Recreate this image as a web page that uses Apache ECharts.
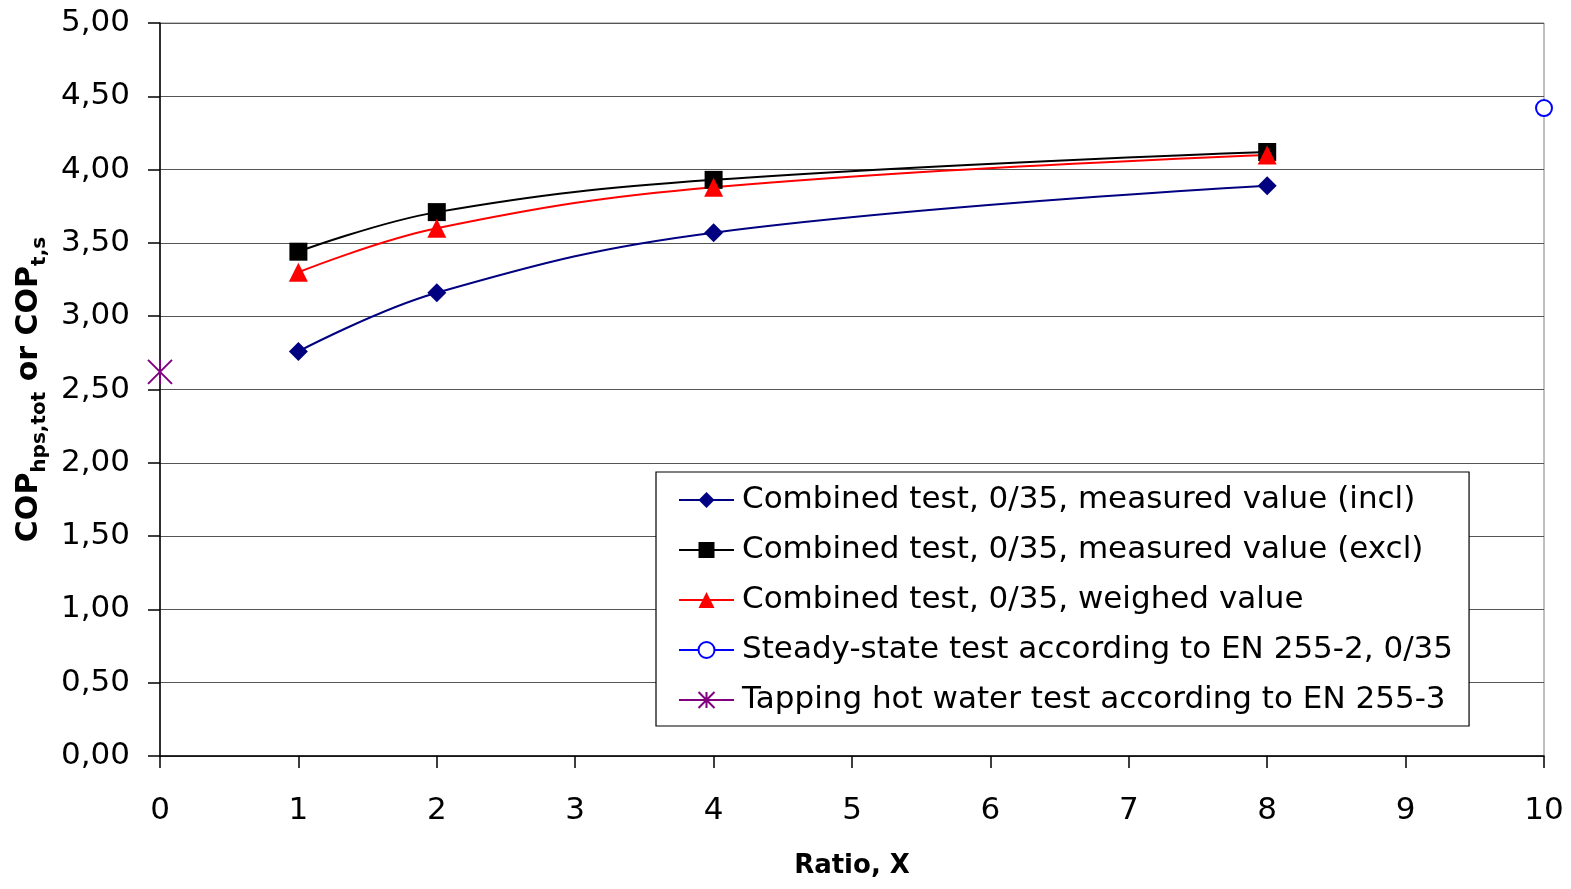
<!DOCTYPE html>
<html>
<head>
<meta charset="utf-8">
<script src="https://cdn.jsdelivr.net/npm/echarts@6/dist/echarts.min.js"></script>
<style>
html,body{margin:0;padding:0;background:#fff;}
#chart{width:1571px;height:889px;}
</style>
</head>
<body>
<div id="chart"></div>
<script>
const ratios = [1, 2, 4, 8];
const measuredIncl = [2.76, 3.16, 3.57, 3.89];
const measuredExcl = [3.44, 3.71, 3.93, 4.12];
const weighed = [3.30, 3.60, 3.88, 4.10];
const steadyStateX = [10];
const steadyStateY = [4.42];
const tappingX = [0];
const tappingY = [2.62];
const seriesNames = [
  'Combined test, 0/35, measured value (incl)',
  'Combined test, 0/35, measured value (excl)',
  'Combined test, 0/35, weighed value',
  'Steady-state test according to EN 255-2, 0/35',
  'Tapping hot water test according to EN 255-3'
];

const pairs = (xs, ys) => xs.map((x, i) => [x, ys[i]]);
const FONT = '"DejaVu Sans", "Liberation Sans", Arial, sans-serif';
const asterisk = 'path://M0,0L10,10M10,0L0,10M5,0L5,10';

const chart = echarts.init(document.getElementById('chart'));
chart.setOption({
  animation: false,
  backgroundColor: '#fff',
  textStyle: { fontFamily: FONT },
  grid: { left: 160, right: 27, top: 23, bottom: 133, show: true, borderColor: '#808080', borderWidth: 1, containLabel: false },
  xAxis: {
    type: 'value', min: 0, max: 10, interval: 1,
    name: 'Ratio, X', nameLocation: 'middle', nameGap: 97,
    nameTextStyle: { fontSize: 26, fontWeight: 'bold', color: '#000', fontFamily: FONT },
    axisLine: { show: true, onZero: false, lineStyle: { color: '#000', width: 1.5 } },
    axisTick: { show: true, length: 12, lineStyle: { color: '#000', width: 1.5 } },
    axisLabel: { fontSize: 31, color: '#000', margin: 39, fontFamily: FONT },
    splitLine: { show: false }
  },
  yAxis: {
    type: 'value', min: 0, max: 5, interval: 0.5,
    name: '{b|COP}{s|hps,tot}{b| or COP}{s|t,s}',
    nameLocation: 'middle', nameGap: 110, nameRotate: 90,
    nameTextStyle: {
      color: '#000', fontFamily: FONT,
      rich: {
        b: { fontSize: 30, fontWeight: 'bold', color: '#000', fontFamily: FONT, lineHeight: 40, verticalAlign: 'bottom' },
        s: { fontSize: 20, fontWeight: 'bold', color: '#000', fontFamily: FONT, lineHeight: 40, verticalAlign: 'bottom', padding: [0, 0, -6, 0] }
      }
    },
    axisLine: { show: true, lineStyle: { color: '#000', width: 1.5 } },
    axisTick: { show: true, length: 12, lineStyle: { color: '#000', width: 1.5 } },
    axisLabel: { fontSize: 31, color: '#000', margin: 30, fontFamily: FONT,
      formatter: v => v.toFixed(2).replace('.', ',') },
    splitLine: { show: true, lineStyle: { color: '#555', width: 1.2 } }
  },
  legend: {
    orient: 'vertical', left: 656, top: 472,
    padding: [10, 16, 8, 22],
    itemGap: 14, itemWidth: 55, itemHeight: 20,
    backgroundColor: '#fff', borderColor: '#000', borderWidth: 1.2,
    textStyle: { fontSize: 31, color: '#000', fontFamily: FONT, lineHeight: 36, padding: [0, 0, 0, 3] },
    data: seriesNames
  },
  series: [
    { name: seriesNames[0], type: 'line', smooth: 0.4, data: pairs(ratios, measuredIncl),
      symbol: 'diamond', symbolSize: 19, color: '#000080',
      lineStyle: { color: '#000080', width: 2 }, itemStyle: { color: '#000080' } },
    { name: seriesNames[1], type: 'line', smooth: 0.4, data: pairs(ratios, measuredExcl),
      symbol: 'rect', symbolSize: 18, color: '#000',
      lineStyle: { color: '#000', width: 2 }, itemStyle: { color: '#000' } },
    { name: seriesNames[2], type: 'line', smooth: 0.4, data: pairs(ratios, weighed),
      symbol: 'triangle', symbolSize: 19, color: '#ff0000',
      lineStyle: { color: '#ff0000', width: 2 }, itemStyle: { color: '#ff0000' } },
    { name: seriesNames[3], type: 'line', data: pairs(steadyStateX, steadyStateY),
      symbol: 'emptyCircle', symbolSize: 16, color: '#0000ff',
      lineStyle: { color: '#0000ff', width: 2 }, itemStyle: { color: '#0000ff', borderWidth: 2 } },
    { name: seriesNames[4], type: 'line', data: pairs(tappingX, tappingY),
      symbol: asterisk, symbolSize: 24, color: '#800080',
      lineStyle: { color: '#800080', width: 2 },
      itemStyle: { color: 'rgba(0,0,0,0)', borderColor: '#800080', borderWidth: 2 } }
  ]
});
</script>
</body>
</html>
